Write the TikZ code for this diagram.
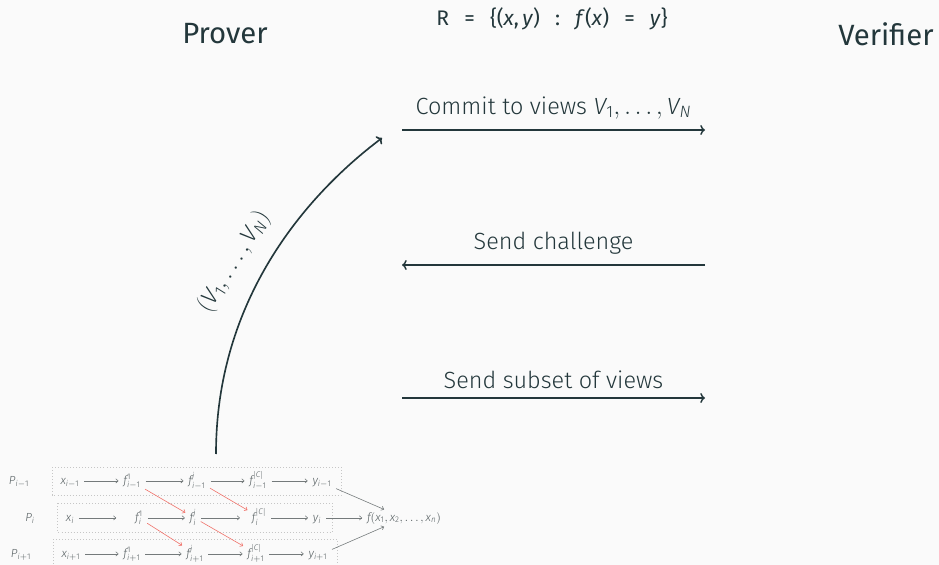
\documentclass[tikz,border=0pt]{standalone}
\usepackage{mathspec}
\setmainfont{Fira Sans Light}
\setmathsfont(Digits,Latin)[Numbers={Lining,Proportional}]{Fira Sans Light}
\setmathrm{Fira Sans Light}
\newfontfamily\titlefont{Fira Sans}
\usetikzlibrary{arrows.meta}
\definecolor{mDarkTeal}{HTML}{23373B}
\definecolor{mBg}{HTML}{FAFAFA}
\definecolor{mRed}{RGB}{240,112,104}
\definecolor{mGray}{HTML}{565F61}
\definecolor{mLine}{HTML}{747A7B}
\newcommand{\gap}{\hspace{0.72em}}
\begin{document}
\begin{tikzpicture}[x=0.03cm,y=-0.03cm,
  title/.style={font=\titlefont\fontsize{25}{30}\selectfont, text=mDarkTeal},
  lbl/.style={font=\fontsize{20}{24}\selectfont, text=mDarkTeal},
  msg/.style={-{To[length=4pt,width=8.5pt]}, line width=1.2pt, draw=mDarkTeal},
  cell/.style={anchor=base, inner sep=1pt, font=\fontsize{10}{12}\selectfont, text=mGray},
  link/.style={-{To[length=2.5pt,width=4pt]}, draw=mLine, line width=0.5pt, shorten <=3pt, shorten >=3pt},
  cross/.style={link, draw=mRed},
  rowbox/.style={draw=gray!45, dotted, line width=0.6pt}]
\fill[mBg] (0,0) rectangle (939,565);
\useasboundingbox (0,0) rectangle (939,565);
% parties and relation
\node[title] (prover) at (225,34) {Prover};
\node[title] (verifier) at (886,34) {Verifier};
\node[font=\titlefont\fontsize{18}{21}\selectfont, text=mDarkTeal] (rel) at (552,19)
  {R\gap=\gap\{(\textit{x},\,\textit{y})\gap:\gap\textit{f}\/(\textit{x})\gap=\gap\textit{y}\}};
% messages
\coordinate (M1s) at (402,130);
\coordinate (M1e) at (705,130);
\coordinate (M2s) at (705,265);
\coordinate (M2e) at (402,265);
\coordinate (M3s) at (402,398);
\coordinate (M3e) at (705,398);
\draw[msg] (M1s) -- node[lbl, anchor=base, yshift=13.5pt] {Commit to views $V_1,\ldots,V_N$} (M1e);
\draw[msg] (M2s) -- node[lbl, anchor=base, yshift=13.5pt] {Send challenge} (M2e);
\draw[msg] (M3s) -- node[lbl, anchor=base, yshift=8.5pt] {Send subset of views} (M3e);
% views go up to the commitment
\coordinate (views) at (216,454);
\coordinate (commit) at (382,138);
\draw[msg, line width=1.4pt] (views) .. controls (216,300) and (305,196) .. (commit);
\node[lbl, rotate=58] (vlist) at (234,262) {$(V_1,\ldots,V_N)$};
% rows of the parties
\draw[rowbox] (52,467) rectangle (341,495);
\draw[rowbox] (57,503) rectangle (332,532);
\draw[rowbox] (53,539) rectangle (337,572);
\node[cell] (P0) at (19,484) {$P_{i-1}$};
\node[cell] (X0) at (70,484) {$x_{i-1}$};
\node[cell] (A0) at (132,484) {$f^{1}_{i-1}$};
\node[cell] (J0) at (197,484) {$f^{j}_{i-1}$};
\node[cell] (C0) at (258,484) {$f^{|C|}_{i-1}$};
\node[cell] (Y0) at (322,484) {$y_{i-1}$};
\node[cell] (P1) at (30,521) {$P_{i}$};
\node[cell] (X1) at (70,521) {$x_{i}$};
\node[cell] (A1) at (139,521) {$f^{1}_{i}$};
\node[cell] (J1) at (193,521) {$f^{j}_{i}$};
\node[cell] (C1) at (259,521) {$f^{|C|}_{i}$};
\node[cell] (Y1) at (317,521) {$y_{i}$};
\node[cell] (P2) at (21,557) {$P_{i+1}$};
\node[cell] (X2) at (71,557) {$x_{i+1}$};
\node[cell] (A2) at (132,557) {$f^{1}_{i+1}$};
\node[cell] (J2) at (195,557) {$f^{j}_{i+1}$};
\node[cell] (C2) at (256,557) {$f^{|C|}_{i+1}$};
\node[cell] (Y2) at (318,557) {$y_{i+1}$};
\node[cell] (F) at (404,521) {$f(x_1,x_2,\ldots,x_n)$};
\draw[link] (X0.mid east) -- (A0.mid west);
\draw[link] (A0.mid east) -- (J0.mid west);
\draw[link] (J0.mid east) -- (C0.mid west);
\draw[link] (C0.mid east) -- (Y0.mid west);
\draw[link, shorten >=15pt] (X1.mid east) -- (A1.mid west);
\draw[link] (A1.mid east) -- (J1.mid west);
\draw[link, shorten >=9pt] (J1.mid east) -- (C1.mid west);
\draw[link] (C1.mid east) -- (Y1.mid west);
\draw[link] (X2.mid east) -- (A2.mid west);
\draw[link] (A2.mid east) -- (J2.mid west);
\draw[link] (J2.mid east) -- (C2.mid west);
\draw[link] (C2.mid east) -- (Y2.mid west);
\draw[link] (Y0) -- (F);
\draw[link] (Y1.mid east) -- (F.mid west);
\draw[link] (Y2) -- (F);
% shares passed between neighbours
\draw[cross] (A0) -- (J1);
\draw[cross] (J0) -- (C1);
\draw[cross] (A1) -- (J2);
\draw[cross] (J1) -- (C2);
\end{tikzpicture}
\end{document}
